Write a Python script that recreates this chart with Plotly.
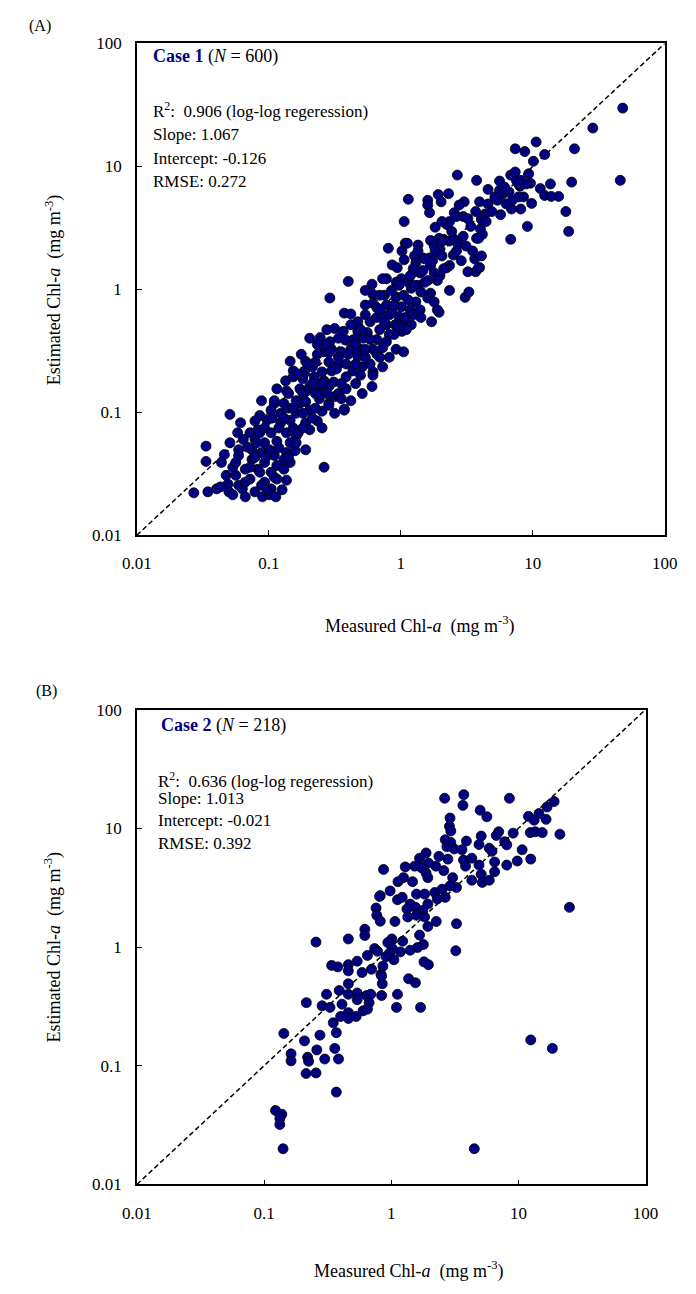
import plotly.graph_objects as go

# ---------------- data ----------------
meas_A = [
    0.11, 0.172, 0.285, 0.104, 0.123, 0.161, 0.204, 0.253, 0.315, 0.373,
    0.0507, 0.0853, 0.097, 0.123, 0.145, 0.19, 0.0785, 0.072, 0.0825, 0.104,
    0.136, 0.161, 0.204, 0.058, 0.064, 0.0785, 0.0928, 0.115, 0.145, 0.19,
    0.0334, 0.0507, 0.059, 0.0745, 0.088, 0.11, 0.136, 0.158, 0.046, 0.059,
    0.0745, 0.0928, 0.115, 0.145, 0.0334, 0.0437, 0.0533, 0.0663, 0.0825, 0.104,
    0.13, 0.262, 0.0475, 0.0561, 0.072, 0.0928, 0.115, 0.136, 0.049, 0.059,
    0.088, 0.104, 0.027, 0.0345, 0.0402, 0.043, 0.0498, 0.0533, 0.063, 0.0896,
    0.101, 0.113, 0.097,
    0.804, 1.02, 1.08, 1.06, 0.86, 0.40, 0.778, 0.92, 1.01, 0.605,
    0.615, 0.29, 0.752, 0.92, 1.05, 0.615, 0.658, 0.778, 1.01, 0.373,
    0.418, 0.538, 0.585, 0.658, 0.818, 0.967, 1.08, 0.472, 0.778, 0.905,
    1.02, 0.275, 0.315, 0.366, 0.472, 0.557, 0.692, 0.818, 0.204, 0.245,
    0.29, 0.337, 0.385, 0.44, 0.52, 0.658, 0.778, 0.92, 1.05, 0.262,
    0.299, 0.354, 0.418, 0.495, 0.615, 0.728, 0.818, 0.658, 0.472, 0.40,
    0.337, 0.285, 0.145, 0.19, 0.225, 0.285, 0.337, 0.385, 0.433, 0.51,
    0.585, 0.615, 0.153, 0.187, 0.214, 0.253, 0.299, 0.134, 0.153, 0.181,
    0.221, 0.262, 0.31, 0.115, 0.136, 0.172, 0.204, 0.241, 0.285, 0.315,
    0.418, 0.51, 0.605, 0.088, 0.11, 0.13, 0.161, 0.19, 0.241, 0.285,
    0.373, 0.728, 0.615, 0.692, 0.538, 0.225, 0.337, 0.253, 0.19,
    48.0, 28.5, 20.7, 46.0, 19.7, 10.6, 7.36, 8.7, 12.3, 10.1,
    2.68, 3.75, 5.6, 6.8, 7.36, 7.5, 9.3, 9.6, 8.0, 13.6,
    11.4, 12.3, 13.8, 15.7, 17.8, 18.7, 9.1, 6.8, 1.14, 1.92,
    2.30, 1.60, 1.60, 2.02, 3.02, 3.95, 4.58, 4.58, 5.6, 5.87,
    5.4, 6.3, 7.0, 8.5, 9.8, 8.1, 6.9, 5.7, 1.65, 2.77,
    2.54, 2.97, 3.22, 2.34, 2.23, 4.15, 4.36, 4.01, 4.15, 3.75,
    1.82, 1.06, 1.12, 1.35, 1.68, 1.95, 2.11, 1.79, 1.98, 2.34,
    2.54, 2.97, 2.72, 2.50, 3.5, 3.63, 4.08, 3.95, 3.69, 3.22,
    2.34, 2.23, 1.65, 1.47, 1.30, 1.24, 1.40, 1.68, 1.79, 1.98,
    1.89, 1.60, 1.35, 1.14, 1.20, 1.42, 1.68, 2.34, 3.07, 3.28,
    1.60, 1.79, 1.95, 1.71, 1.30, 1.18, 1.40, 1.08, 1.24, 1.20,
    1.10, 0.967,
    8.1, 8.9, 7.8, 4.08, 4.43, 3.88, 3.88,
    0.728, 0.86, 0.728, 1.52, 1.27, 1.52, 2.11, 1.82, 2.07, 1.27,
    1.89, 1.42,
    0.101, 0.13, 0.161, 0.181, 0.225, 0.0853, 0.0663, 0.0785, 0.119, 0.153,
    0.0928, 0.233, 0.354, 0.455, 0.385, 0.495, 0.181, 0.141,
    0.061, 0.069, 0.081, 0.095, 0.119, 0.141, 0.167, 0.13, 0.0853, 0.106,
    0.153, 0.181, 0.214, 0.253, 0.0561, 0.072, 0.11, 0.0785, 0.0663, 0.126,
    0.141, 0.167, 0.197, 0.233, 0.275, 0.325, 0.385, 0.455, 0.538, 0.214,
    0.275, 0.354, 0.176, 0.233,
    0.418, 0.495, 0.538, 0.692, 0.89, 0.752, 0.89, 0.585, 0.455, 0.85,
    0.692, 0.538, 0.967, 1.14, 1.18, 0.94, 1.35,
    1.47, 1.74, 2.05, 2.64, 2.87, 3.12, 2.43, 3.39, 3.69, 2.64,
    2.05, 5.16, 6.6, 7.8, 4.9, 6.1,
]
est_A = [
    0.118, 0.118, 0.118, 0.104, 0.098, 0.098, 0.104, 0.102, 0.098, 0.104,
    0.096, 0.094, 0.086, 0.082, 0.086, 0.082, 0.085, 0.068, 0.072, 0.068,
    0.068, 0.064, 0.072, 0.068, 0.06, 0.06, 0.0565, 0.058, 0.0565, 0.0495,
    0.053, 0.0565, 0.0495, 0.0495, 0.047, 0.0445, 0.047, 0.0487, 0.0453, 0.0445,
    0.0413, 0.039, 0.0369, 0.039, 0.0398, 0.039, 0.0357, 0.0344, 0.0344, 0.0325,
    0.0344, 0.0357, 0.0307, 0.0307, 0.0286, 0.027, 0.0286, 0.028, 0.026, 0.0255,
    0.0255, 0.0238, 0.0221, 0.0225, 0.0238, 0.0247, 0.0225, 0.0213, 0.0238, 0.0205,
    0.0213, 0.0205, 0.0234,
    2.16, 2.05, 2.37, 1.74, 1.58, 1.16, 1.22, 1.14, 1.22, 1.10,
    0.91, 0.85, 0.895, 0.86, 0.895, 0.77, 0.71, 0.745, 0.72, 0.64,
    0.63, 0.62, 0.545, 0.59, 0.62, 0.60, 0.535, 0.545, 0.515, 0.515,
    0.455, 0.47, 0.48, 0.455, 0.455, 0.445, 0.47, 0.429, 0.40, 0.405,
    0.375, 0.40, 0.385, 0.39, 0.40, 0.39, 0.375, 0.325, 0.31, 0.31,
    0.325, 0.31, 0.325, 0.325, 0.325, 0.335, 0.28, 0.296, 0.285, 0.296,
    0.28, 0.305, 0.26, 0.26, 0.256, 0.256, 0.247, 0.247, 0.217, 0.234,
    0.247, 0.213, 0.217, 0.217, 0.234, 0.213, 0.217, 0.18, 0.194, 0.187,
    0.194, 0.18, 0.176, 0.155, 0.149, 0.155, 0.162, 0.149, 0.162, 0.134,
    0.124, 0.142, 0.162, 0.124, 0.124, 0.118, 0.124, 0.122, 0.129, 0.114,
    0.106, 0.234, 0.20, 0.28, 0.28, 0.142, 0.142, 0.171, 0.147,
    29.8, 20.5, 13.9, 7.7, 7.45, 15.8, 13.9, 13.2, 12.5, 11.0,
    8.5, 7.7, 7.6, 8.5, 9.0, 7.7, 8.7, 7.3, 6.9, 7.2,
    6.6, 5.8, 5.7, 5.7, 4.29, 2.96, 3.25, 2.55, 5.4, 5.9,
    6.0, 5.3, 4.85, 5.15, 5.15, 5.15, 6.5, 4.95, 6.4, 5.9,
    5.3, 4.95, 5.3, 5.65, 5.0, 4.5, 4.5, 4.05, 4.2, 4.85,
    4.2, 3.91, 3.76, 3.56, 3.37, 3.91, 4.1, 3.1, 2.8, 2.6,
    3.2, 3.56, 2.37, 2.29, 2.5, 2.6, 2.55, 2.25, 2.12, 2.47,
    2.55, 2.7, 2.33, 1.9, 2.05, 1.77, 1.87, 1.5, 1.39, 1.39,
    1.56, 1.5, 1.8, 1.8, 1.64, 1.47, 1.36, 1.56, 1.36, 1.29,
    1.18, 1.18, 1.08, 1.14, 1.02, 0.95, 0.93, 0.98, 0.86, 0.95,
    0.85, 0.79, 0.65, 0.545, 0.79, 0.68, 0.68, 0.59, 0.62, 0.515,
    0.47, 0.49,
    7.7, 7.2, 7.2, 3.7, 3.56, 2.6, 1.5,
    0.62, 0.65, 1.22, 1.14, 1.87, 1.77, 1.47, 2.05, 2.47, 1.08,
    0.68, 0.59,
    0.0495, 0.0413, 0.0565, 0.098, 0.108, 0.0325, 0.027, 0.043, 0.0745, 0.0745,
    0.0745, 0.085, 0.129, 0.171, 0.194, 0.20, 0.142, 0.108,
    0.082, 0.052, 0.0565, 0.043, 0.0515, 0.043, 0.068, 0.0896, 0.068, 0.0896,
    0.108, 0.0745, 0.0896, 0.0745, 0.039, 0.0357, 0.0296, 0.0225, 0.0205, 0.0234,
    0.142, 0.205, 0.247, 0.296, 0.356, 0.225, 0.155, 0.247, 0.325, 0.171,
    0.142, 0.171, 0.296, 0.356,
    0.515, 0.47, 0.745, 0.68, 0.745, 0.535, 0.429, 0.391, 0.356, 0.98,
    0.895, 0.98, 1.08, 0.817, 1.29, 1.5, 2.05,
    1.42, 1.71, 1.87, 2.05, 1.71, 2.25, 2.96, 3.25, 4.29, 3.91,
    3.56, 5.65, 6.2, 5.65, 4.29, 6.79,
]

meas_B = [
    0.82, 0.76, 0.77, 0.82, 0.62, 0.62, 0.256, 0.46, 0.74, 0.78,
    0.65, 0.34, 0.38, 0.46, 0.46, 0.54, 0.59, 0.70, 0.83, 0.85,
    0.39, 0.46, 0.46, 0.31, 0.54, 0.54, 0.64, 0.69, 0.67, 0.84,
    0.215, 0.286, 0.33, 0.41, 0.40, 0.46, 0.46, 0.53, 0.60, 0.65,
    0.35, 0.143, 0.275, 0.37, 0.208, 0.26, 0.36, 0.163, 0.163, 0.22,
    0.224, 0.30, 0.385, 0.214, 0.256, 0.37, 0.123, 0.138, 0.133, 0.133,
    0.141,
    2.63, 3.72, 3.66, 8.5, 5.0, 5.65, 2.9, 2.87, 2.94, 19.1,
    16.8, 14.5, 12.0, 13.3, 16.5, 12.4, 13.6, 15.4, 21.2, 9.1,
    7.0, 6.7, 5.1, 3.9, 4.9, 2.66, 2.94, 3.13, 2.74, 3.6,
    3.7, 4.3, 5.9, 6.2, 7.8, 8.1, 6.5, 4.9, 3.84, 10.7,
    9.8, 12.5, 8.1, 5.1, 6.5, 4.3, 5.2, 5.9, 2.37, 2.79,
    2.24, 2.59, 3.04, 3.26, 2.9, 1.88, 1.67, 1.96, 1.73, 1.88,
    1.94, 1.53, 1.29, 1.25, 1.13, 1.47, 0.87, 0.98, 0.81, 1.12,
    1.22, 1.41, 1.58, 1.83, 2.2, 2.51, 2.3, 2.66, 1.94, 1.55,
    1.77, 1.33, 1.35, 1.58, 1.83, 1.07, 1.94, 2.26, 3.26, 1.67,
    1.23, 1.01, 0.94, 1.79, 1.61, 1.41, 1.18, 1.02, 0.97, 1.05,
    0.91, 3.22, 1.81, 1.96, 1.37, 1.55, 0.86, 1.12, 25.2, 0.84,
    12.5, 18.5, 4.5, 1.1, 1.7,
]
est_B = [
    2.71, 2.13, 1.85, 1.65, 1.41, 1.25, 1.10, 1.17, 0.97, 0.92,
    0.85, 0.70, 0.68, 0.71, 0.63, 0.76, 0.61, 0.65, 0.59, 0.49,
    0.43, 0.49, 0.40, 0.40, 0.41, 0.36, 0.39, 0.40, 0.34, 0.39,
    0.34, 0.32, 0.31, 0.33, 0.26, 0.28, 0.25, 0.26, 0.29, 0.30,
    0.23, 0.187, 0.181, 0.19, 0.162, 0.136, 0.14, 0.126, 0.11, 0.118,
    0.109, 0.114, 0.114, 0.086, 0.087, 0.06, 0.042, 0.039, 0.036, 0.032,
    0.02,
    17.9, 19.2, 15.6, 17.9, 14.2, 12.5, 12.2, 10.4, 9.5, 16.8,
    15.1, 13.3, 12.6, 11.7, 11.9, 9.2, 9.35, 9.2, 8.9, 9.1,
    9.35, 8.7, 8.6, 7.8, 7.3, 8.0, 7.6, 6.7, 7.0, 6.6,
    5.4, 5.6, 6.8, 6.4, 7.7, 7.25, 5.2, 4.9, 4.8, 6.6,
    5.3, 5.5, 4.9, 4.1, 4.3, 3.65, 3.5, 3.65, 5.8, 5.5,
    4.8, 4.4, 3.84, 3.17, 3.27, 6.2, 5.6, 5.1, 4.65, 4.2,
    3.84, 4.8, 4.73, 3.84, 3.55, 3.55, 4.5, 2.97, 2.67, 2.5,
    2.62, 2.3, 2.79, 2.79, 2.88, 3.07, 2.54, 2.62, 2.3, 2.16,
    2.03, 2.09, 1.79, 1.85, 1.79, 1.64, 1.49, 1.64, 1.57, 1.26,
    1.12, 1.17, 1.09, 1.05, 0.99, 0.94, 0.91, 0.97, 0.89, 0.78,
    0.83, 0.93, 0.75, 0.71, 0.54, 0.50, 0.69, 0.40, 2.16, 0.57,
    0.165, 0.14, 0.02, 0.31, 0.31,
]

tick_vals = [0.01, 0.1, 1, 10, 100]
tick_text = ["0.01", "0.1", "1", "10", "100"]
one_to_one = [0.01, 100]

# ---------------- styling ----------------
W, H = 696, 1294
FONT = "Liberation Serif, Times New Roman, serif"
NAVY = "#000080"


def fx(px):
    return px / W


def fy(py):
    return 1 - py / H


fig = go.Figure()

for xa, ya, mx, my in (("x", "y", meas_A, est_A), ("x2", "y2", meas_B, est_B)):
    fig.add_trace(go.Scatter(
        x=one_to_one, y=one_to_one, mode="lines", xaxis=xa, yaxis=ya,
        line=dict(color="black", width=1.5, dash="5px,3px"),
        hoverinfo="skip", showlegend=False))
    fig.add_trace(go.Scatter(
        x=mx, y=my, mode="markers", xaxis=xa, yaxis=ya,
        marker=dict(size=10, color=NAVY, line=dict(color="black", width=0.8)),
        showlegend=False))

axis_common = dict(
    type="log", range=[-2, 2], tickvals=tick_vals, ticktext=tick_text,
    ticks="inside", ticklen=5, tickwidth=1, tickcolor="black",
    showline=True, linecolor="black", linewidth=1.5, mirror=True,
    showgrid=False, zeroline=False,
    tickfont=dict(family=FONT, size=17, color="black"),
)

# panel A plot box: x 127..677, y 35..534 ; panel B: x 127..657, y 711..1193
fig.update_layout(
    width=W, height=H, margin=dict(l=0, r=0, t=0, b=0),
    paper_bgcolor="white", plot_bgcolor="white", showlegend=False,
    xaxis=dict(axis_common, domain=[fx(127), fx(677)], anchor="y", ticklabelstandoff=12),
    yaxis=dict(axis_common, domain=[fy(534), fy(35)], anchor="x", ticklabelstandoff=10),
    xaxis2=dict(axis_common, domain=[fx(127), fx(657)], anchor="y2", ticklabelstandoff=12),
    yaxis2=dict(axis_common, domain=[fy(1193), fy(711)], anchor="x2", ticklabelstandoff=10),
)


def ann(x, y, text, size=17, xanchor="left", angle=0):
    fig.add_annotation(
        x=fx(x), y=fy(y), xref="paper", yref="paper", text=text,
        showarrow=False, xanchor=xanchor, yanchor="middle", textangle=angle,
        font=dict(family=FONT, size=size, color="black"))


# panel labels
ann(12, 17, "(A)", 16)
ann(20, 692, "(B)", 16)

# panel A text
ann(142, 48, f"<b><span style='color:{NAVY}'>Case 1</span></b> (<i>N</i> = 600)", 18)
ann(142, 103, "R<sup>2</sup>:&nbsp; 0.906 (log-log regeression)")
ann(142, 127, "Slope: 1.067")
ann(142, 152, "Intercept: -0.126")
ann(142, 175, "RMSE: 0.272")

# panel B text
ann(150, 727, f"<b><span style='color:{NAVY}'>Case 2</span></b> (<i>N</i> = 218)", 18)
ann(147, 782, "R<sup>2</sup>:&nbsp; 0.636 (log-log regeression)")
ann(147, 801, "Slope: 1.013")
ann(147, 824, "Intercept: -0.021")
ann(147, 847, "RMSE: 0.392")

# axis titles
xt = "Measured Chl-<i>a</i>&nbsp; (mg m<sup>-3</sup>)"
yt = "Estimated Chl-<i>a</i>&nbsp; (mg m<sup>-3</sup>)"
ann(421, 625, xt, 18, xanchor="center")
ann(410, 1280, xt, 18, xanchor="center")
ann(40, 285, yt, 18, xanchor="center", angle=-90)
ann(40, 952, yt, 18, xanchor="center", angle=-90)

fig.write_html("out.html")
